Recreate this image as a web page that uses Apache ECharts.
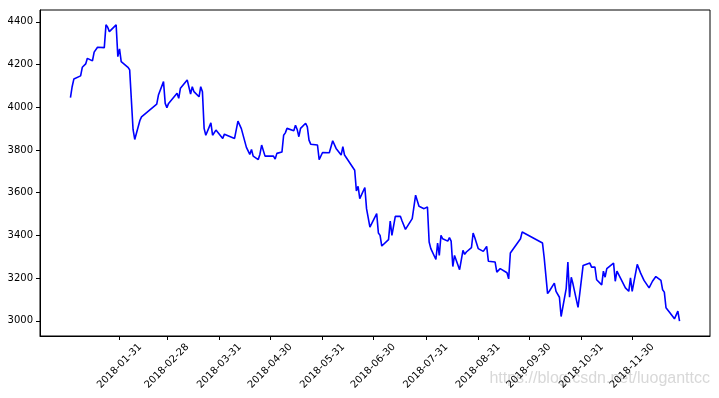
<!DOCTYPE html>
<html>
<head>
<meta charset="utf-8">
<script src="https://cdn.jsdelivr.net/npm/echarts@6/dist/echarts.min.js"></script>
<style>
  html, body { margin: 0; padding: 0; background: #fff; }
  #chart { width: 719px; height: 398px; }
</style>
</head>
<body>
<div id="chart"></div>
<script>
// 2018 daily series (turning points only)
const dates = [
  '2018-01-02', '2018-01-03', '2018-01-04', '2018-01-05', '2018-01-08', '2018-01-09', '2018-01-11', '2018-01-12',
  '2018-01-15', '2018-01-16', '2018-01-17', '2018-01-18', '2018-01-19', '2018-01-22', '2018-01-23', '2018-01-24',
  '2018-01-25', '2018-01-29', '2018-01-30', '2018-01-31', '2018-02-01', '2018-02-02', '2018-02-05', '2018-02-06',
  '2018-02-08', '2018-02-09', '2018-02-12', '2018-02-13', '2018-02-14', '2018-02-22', '2018-02-23', '2018-02-26',
  '2018-02-27', '2018-02-28', '2018-03-01', '2018-03-02', '2018-03-06', '2018-03-07', '2018-03-08', '2018-03-12',
  '2018-03-13', '2018-03-14', '2018-03-15', '2018-03-16', '2018-03-19', '2018-03-20', '2018-03-21', '2018-03-22',
  '2018-03-23', '2018-03-26', '2018-03-27', '2018-03-28', '2018-03-29', '2018-03-30', '2018-04-02', '2018-04-03',
  '2018-04-04', '2018-04-09', '2018-04-11', '2018-04-12', '2018-04-13', '2018-04-16', '2018-04-18', '2018-04-19',
  '2018-04-20', '2018-04-23', '2018-04-24', '2018-04-25', '2018-04-26', '2018-04-27', '2018-05-02', '2018-05-03',
  '2018-05-04', '2018-05-07', '2018-05-08', '2018-05-09', '2018-05-10', '2018-05-14', '2018-05-15', '2018-05-16',
  '2018-05-17', '2018-05-18', '2018-05-21', '2018-05-22', '2018-05-23', '2018-05-24', '2018-05-28', '2018-05-29',
  '2018-05-30', '2018-05-31', '2018-06-04', '2018-06-06', '2018-06-07', '2018-06-08', '2018-06-11', '2018-06-12',
  '2018-06-13', '2018-06-19', '2018-06-20', '2018-06-21', '2018-06-22', '2018-06-25', '2018-06-26', '2018-06-27',
  '2018-06-28', '2018-06-29', '2018-07-02', '2018-07-03', '2018-07-04', '2018-07-05', '2018-07-09', '2018-07-10',
  '2018-07-11', '2018-07-12', '2018-07-13', '2018-07-16', '2018-07-17', '2018-07-19', '2018-07-23', '2018-07-25',
  '2018-07-26', '2018-07-27', '2018-07-30', '2018-07-31', '2018-08-01', '2018-08-02', '2018-08-03', '2018-08-06',
  '2018-08-07', '2018-08-08', '2018-08-09', '2018-08-10', '2018-08-13', '2018-08-14', '2018-08-15', '2018-08-16',
  '2018-08-17', '2018-08-20', '2018-08-22', '2018-08-23', '2018-08-24', '2018-08-27', '2018-08-28', '2018-08-29',
  '2018-08-31', '2018-09-03', '2018-09-04', '2018-09-05', '2018-09-06', '2018-09-10', '2018-09-11', '2018-09-12',
  '2018-09-13', '2018-09-14', '2018-09-17', '2018-09-18', '2018-09-19', '2018-09-20', '2018-09-25', '2018-09-26',
  '2018-10-08', '2018-10-09', '2018-10-10', '2018-10-11', '2018-10-12', '2018-10-15', '2018-10-16', '2018-10-17',
  '2018-10-18', '2018-10-19', '2018-10-22', '2018-10-23', '2018-10-24', '2018-10-25', '2018-10-26', '2018-10-29',
  '2018-10-30', '2018-11-01', '2018-11-05', '2018-11-06', '2018-11-07', '2018-11-08', '2018-11-09', '2018-11-12',
  '2018-11-13', '2018-11-14', '2018-11-15', '2018-11-19', '2018-11-20', '2018-11-21', '2018-11-26', '2018-11-27',
  '2018-11-28', '2018-11-29', '2018-11-30', '2018-12-03', '2018-12-04', '2018-12-05', '2018-12-06', '2018-12-07',
  '2018-12-10', '2018-12-11', '2018-12-12', '2018-12-13', '2018-12-14', '2018-12-17', '2018-12-18', '2018-12-19',
  '2018-12-20', '2018-12-24', '2018-12-25', '2018-12-26', '2018-12-27', '2018-12-28'
];

const values = [
  4045, 4096, 4132, 4139, 4147, 4187, 4203, 4229,
  4217, 4258, 4261, 4281, 4277, 4279, 4386, 4375,
  4354, 4386, 4237, 4273, 4214, 4209, 4187, 4175,
  3896, 3849, 3937, 3955, 3962, 4015, 4057, 4120,
  4018, 3998, 4018, 4021, 4065, 4042, 4089, 4128,
  4124, 4062, 4096, 4073, 4049, 4096, 4073, 3901,
  3869, 3927, 3869, 3862, 3893, 3896, 3854, 3874,
  3866, 3854, 3935, 3932, 3900, 3812, 3779, 3802,
  3771, 3755, 3780, 3823, 3823, 3771, 3771, 3757,
  3784, 3790, 3869, 3880, 3901, 3890, 3916, 3896,
  3862, 3901, 3925, 3908, 3846, 3827, 3823, 3755,
  3749, 3788, 3787, 3843, 3846, 3807, 3776, 3815,
  3776, 3705, 3608, 3630, 3572, 3624, 3525, 3525,
  3439, 3436, 3502, 3411, 3400, 3350, 3380, 3467,
  3400, 3400, 3489, 3489, 3467, 3428, 3478, 3588,
  3585, 3536, 3525, 3521, 3533, 3369, 3338, 3287,
  3364, 3306, 3400, 3384, 3373, 3389, 3373, 3254,
  3306, 3239, 3330, 3311, 3322, 3342, 3411, 3389,
  3338, 3325, 3330, 3348, 3279, 3275, 3228, 3220,
  3244, 3240, 3225, 3196, 3317, 3322, 3384, 3416,
  3364, 3295, 3295, 3127, 3138, 3176, 3138, 3145,
  3110, 3020, 3150, 3275, 3110, 3204, 3173, 3063,
  3126, 3259, 3270, 3251, 3248, 3251, 3192, 3168,
  3232, 3204, 3244, 3270, 3185, 3232, 3154, 3150,
  3138, 3201, 3138, 3264, 3259, 3223, 3220, 3189,
  3154, 3154, 3185, 3185, 3207, 3189, 3145, 3134,
  3061, 3020, 3009, 3014, 3045, 2998
];

// month-end ticks on the x axis, value ticks on the y axis
const xTickDates = [
  '2018-01-31', '2018-02-28', '2018-03-31', '2018-04-30', '2018-05-31', '2018-06-30',
  '2018-07-31', '2018-08-31', '2018-09-30', '2018-10-31', '2018-11-30'
];
const yTicks = [3000, 3200, 3400, 3600, 3800, 4000, 4200, 4400];

// dates -> timestamps (UTC) so a plain value axis can place them
function toTime(s) {
  const p = s.split('-').map(Number);
  return Date.UTC(p[0], p[1] - 1, p[2]);
}
function pad2(n) { return n < 10 ? '0' + n : '' + n; }
function fmtDate(v) {
  const d = new Date(v);
  return d.getUTCFullYear() + '-' + pad2(d.getUTCMonth() + 1) + '-' + pad2(d.getUTCDate());
}

const tMin = toTime(dates[0]);
const tMax = toTime(dates[dates.length - 1]);
const tPad = (tMax - tMin) * 0.05;
const vMin = Math.min(...values);
const vMax = Math.max(...values);
const vPad = (vMax - vMin) * 0.05;

const xTicks = xTickDates.map(toTime);
const seriesData = dates.map((d, i) => [toTime(d), values[i]]);

const chart = echarts.init(document.getElementById('chart'), null, { renderer: 'canvas' });

const option = {
  backgroundColor: '#ffffff',
  animation: false,
  grid: {
    left: 40, right: 9, top: 10, bottom: 62,
    show: true,
    borderColor: '#000',
    borderWidth: 1,
    backgroundColor: 'transparent'
  },
  xAxis: {
    type: 'value',
    min: tMin - tPad,
    max: tMax + tPad,
    axisLine: { show: true, onZero: false, lineStyle: { color: '#000', width: 1 } },
    axisTick: { show: true, length: 4, lineStyle: { color: '#000' }, customValues: xTicks },
    axisLabel: {
      customValues: xTicks,
      formatter: v => fmtDate(v),
      rotate: 45,
      align: 'center',
      verticalAlign: 'middle',
      margin: 30,
      color: '#000',
      fontSize: 10,
      fontFamily: 'DejaVu Sans',
      showMinLabel: true,
      showMaxLabel: true
    },
    splitLine: { show: false }
  },
  yAxis: {
    type: 'value',
    min: vMin - vPad,
    max: vMax + vPad,
    axisLine: { show: true, onZero: false, lineStyle: { color: '#000', width: 1 } },
    axisTick: { show: true, length: 4, lineStyle: { color: '#000' }, customValues: yTicks },
    axisLabel: {
      customValues: yTicks,
      formatter: v => String(v),
      margin: 7,
      color: '#000',
      fontSize: 10,
      fontFamily: 'DejaVu Sans'
    },
    splitLine: { show: false }
  },
  series: [
    {
      type: 'line',
      data: seriesData,
      showSymbol: false,
      lineStyle: { color: '#0000ff', width: 1.6 },
      itemStyle: { color: '#0000ff' }
    }
  ],
  graphic: [
    {
      type: 'text',
      right: 9,
      top: 371,
      style: {
        text: 'https://blog.csdn.net/luoganttcc',
        fill: 'rgba(200, 200, 200, 0.7)',
        fontSize: 16,
        fontFamily: 'Liberation Sans Narrow, Liberation Sans, sans-serif'
      }
    }
  ]
};

chart.setOption(option);
</script>
</body>
</html>
